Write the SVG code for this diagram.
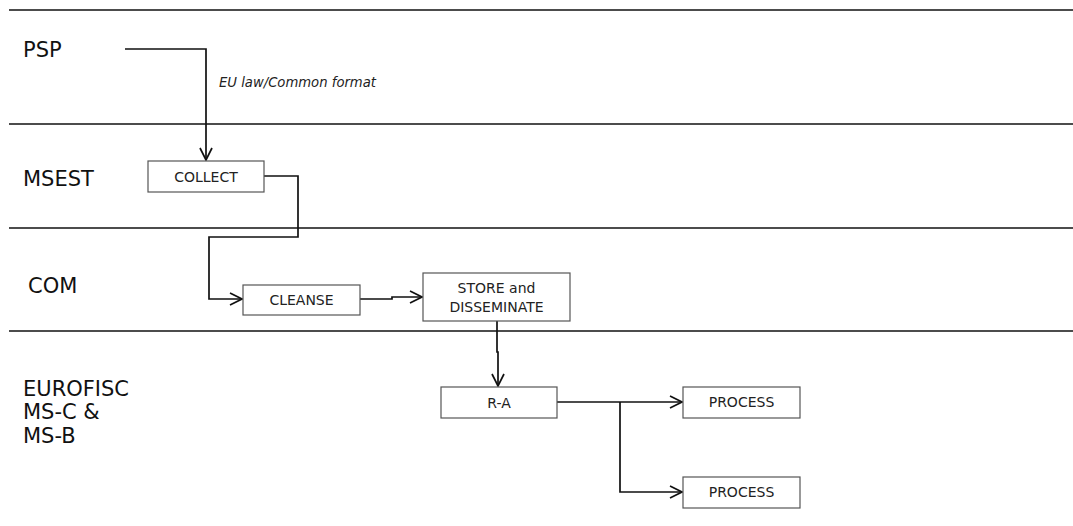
<svg xmlns="http://www.w3.org/2000/svg" width="1073" height="526" viewBox="0 0 1073 526">
<style>
.lane{stroke:#111;stroke-width:1.5;fill:none}
.lbl{font-family:"DejaVu Sans",Verdana,sans-serif;font-size:21px;fill:#111}
.box{fill:#fff;stroke:#555;stroke-width:1.2}
.bt{font-family:"DejaVu Sans",Verdana,sans-serif;font-size:14px;fill:#222;text-anchor:middle}
.con{fill:none;stroke:#111;stroke-width:1.7}
.it{font-family:"DejaVu Sans",Verdana,sans-serif;font-size:13.2px;font-style:italic;fill:#222}
</style>
<defs>
<marker id="ah" markerUnits="userSpaceOnUse" markerWidth="14" markerHeight="14" refX="12" refY="6" orient="auto" viewBox="-1 -1 14 14">
<path d="M0,0 L12,6 L0,12" fill="none" stroke="#111" stroke-width="1.7"/>
</marker>
</defs>
<rect width="1073" height="526" fill="#fff"/>
<g id="lanes">
<line class="lane" x1="9" y1="10" x2="1073" y2="10"/>
<line class="lane" x1="9" y1="124" x2="1073" y2="124"/>
<line class="lane" x1="9" y1="228" x2="1073" y2="228"/>
<line class="lane" x1="9" y1="331" x2="1073" y2="331"/>
<text class="lbl" x="23" y="57">PSP</text>
<text class="lbl" x="23" y="186">MSEST</text>
<text class="lbl" x="28" y="293">COM</text>
<text class="lbl" x="23" y="396">EUROFISC</text>
<text class="lbl" x="23" y="419">MS-C &amp;</text>
<text class="lbl" x="23" y="443">MS-B</text>
</g>
<g id="connectors">
<path class="con" d="M125,49 H206 V160" marker-end="url(#ah)"/>
<text class="it" x="219" y="87">EU law/Common format</text>
<path class="con" d="M264,176 H298 V237 H209 V299 H242" marker-end="url(#ah)"/>
<path class="con" d="M360,299 H392 V297 H422" marker-end="url(#ah)"/>
<path class="con" d="M497,321 V352 H498 V386" marker-end="url(#ah)"/>
<path class="con" d="M557,402 H682" marker-end="url(#ah)"/>
<path class="con" d="M620,402 V492 H682" marker-end="url(#ah)"/>
</g>
<g id="collect">
<rect class="box" x="148" y="161" width="116" height="31"/>
<text class="bt" x="206" y="182">COLLECT</text>
</g>
<g id="cleanse">
<rect class="box" x="243" y="285" width="117" height="30"/>
<text class="bt" x="301.5" y="305">CLEANSE</text>
</g>
<g id="store">
<rect class="box" x="423" y="273" width="147" height="48"/>
<text class="bt" x="496.5" y="293">STORE and</text>
<text class="bt" x="496.5" y="312">DISSEMINATE</text>
</g>
<g id="ra">
<rect class="box" x="441" y="387" width="116" height="31"/>
<text class="bt" x="499" y="408">R-A</text>
</g>
<g id="process1">
<rect class="box" x="683" y="387" width="117" height="31"/>
<text class="bt" x="741.5" y="407">PROCESS</text>
</g>
<g id="process2">
<rect class="box" x="683" y="477" width="117" height="31"/>
<text class="bt" x="741.5" y="497">PROCESS</text>
</g>
</svg>
